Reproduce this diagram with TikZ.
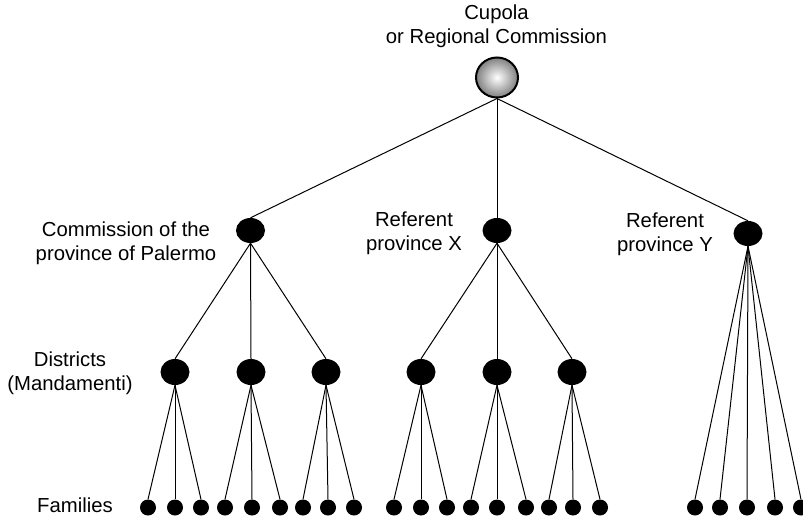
\documentclass[tikz,border=0pt]{standalone}
\usepackage{fontspec}
\setmainfont{Liberation Sans}
\usetikzlibrary{shapes.geometric}
\begin{document}
\begin{tikzpicture}[x=1pt,y=-1pt,
  lbl/.style={font=\fontsize{20.3}{24}\selectfont, align=center, inner sep=0pt, anchor=north},
  wire/.style={line width=1pt},
  topnode/.style={ellipse, draw, line width=2pt, minimum width=42pt, minimum height=40pt,
    inner sep=0pt, shading=radial, inner color=white, outer color=black!50},
  prov/.style={ellipse, fill=black, minimum width=29pt, minimum height=25pt, inner sep=0pt},
  dist/.style={ellipse, fill=black, minimum width=29pt, minimum height=26pt, inner sep=0pt},
  fam/.style={circle, fill=black, minimum size=16pt, inner sep=0pt}]
\useasboundingbox (0,0) rectangle (803,519);

% labels
\node[lbl] (tCupola) at (496.5,5) {Cupola\\or Regional Commission};
\node[lbl] (tPal) at (126,222) {Commission of the\\province of Palermo};
\node[lbl] (tX) at (414,212) {Referent\\province X};
\node[lbl] (tY) at (665,213) {Referent\\province Y};
\node[lbl] (tDist) at (70,352) {Districts\\(Mandamenti)};
\node[lbl] (tFam) at (75,497.5) {Families};

% hierarchy
\node[topnode] (cupola) at (497,77.5) {};
\node[prov] (pal) at (250.5,230.5) {};
\node[prov] (px) at (497,230.5) {};
\node[prov] (py) at (748,233.5) {};

\foreach \p in {pal,px,py} \draw[wire] (cupola.south) -- (\p.north);

% districts
\foreach \n/\x/\p in {d1/175/pal, d2/251/pal, d3/326/pal, d4/421/px, d5/497/px, d6/572/px} {
  \node[dist] (\n) at (\x,372) {};
  \draw[wire] (\p.south) -- (\n.north);
}

% families under each district
\foreach \d/\a/\b/\c in {d1/148/175/201, d2/225/252/280, d3/303/328/354,
                         d4/394/421/447, d5/471/497/526, d6/549/573/600} {
  \node[fam] (\d-f1) at (\a,507.5) {};
  \node[fam] (\d-f2) at (\b,507.5) {};
  \node[fam] (\d-f3) at (\c,507.5) {};
  \foreach \k in {1,2,3} \draw[wire] (\d.south) -- (\d-f\k.north);
}

% families directly under province Y
\foreach \k/\x in {1/695, 2/720, 3/747, 4/775, 5/801} {
  \node[fam] (y-f\k) at (\x,507.5) {};
  \draw[wire] (py.south) -- (y-f\k.north);
}
\end{tikzpicture}
\end{document}
